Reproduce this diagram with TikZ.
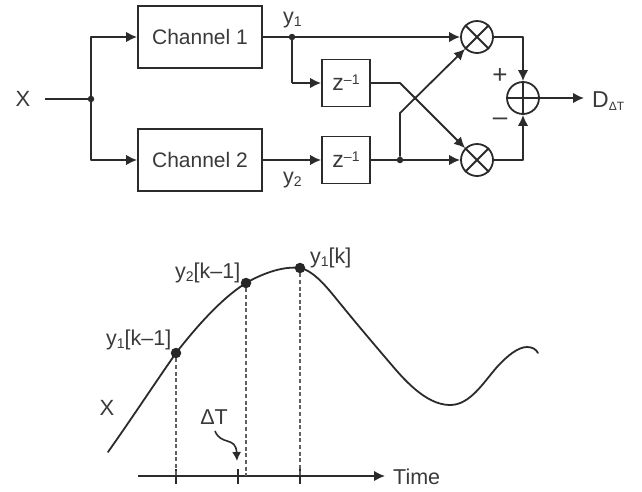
\documentclass[tikz,border=0pt]{standalone}
\usepackage{fontspec}
\setmainfont{Liberation Sans}
\usetikzlibrary{arrows.meta}
\definecolor{ink}{HTML}{2B2B2B}
\definecolor{txt}{HTML}{3A3A3A}
\tikzset{
  wire/.style={draw=ink,line width=1.8pt,line join=round},
  arr/.style={wire,-{Latex[length=11pt,width=10.5pt]}},
  block/.style={draw=ink,line width=1.8pt,inner sep=0pt,fill=white,text=txt,font=\fontsize{21}{21}\selectfont},
  chan/.style={block,minimum width=124pt,minimum height=62pt},
  delay/.style={block,minimum width=48pt,minimum height=47pt},
  op/.style={circle,draw=ink,line width=1.8pt,minimum size=32pt,inner sep=0pt},
  jdot/.style={circle,fill=ink,inner sep=0pt,minimum size=6.5pt},
  pdot/.style={circle,fill=black!85,inner sep=0pt,minimum size=10.5pt},
  lab/.style={inner sep=0pt,text=txt,font=\fontsize{21.5}{21.5}\selectfont},
  guide/.style={draw=ink!75,line width=1.2pt,dash pattern=on 4pt off 2.6pt},
}
\newcommand{\ysub}[2]{y\raisebox{-3.5pt}{\fontsize{14}{14}\selectfont #1}#2}
\newcommand{\zinv}{\fontsize{23}{23}\selectfont z\raisebox{6pt}{\fontsize{14}{14}\selectfont –1}}
\begin{document}
\begin{tikzpicture}[x=1pt,y=-1pt]
\useasboundingbox (0,0) rectangle (642,491);
\fill[white] (0,0) rectangle (642,491);
% upper block diagram
\node[lab,anchor=center] (X) at (23,99) {\fontsize{22}{22}\selectfont X};
\coordinate (in) at (45,99);
\node[jdot] (j0) at (91,99) {};
\node[chan] (c1) at (200,37) {Channel 1};
\node[chan] (c2) at (200,160) {Channel 2};
\node[jdot] (j1) at (292,37) {};
\node[delay] (z1) at (346,83) {\zinv};
\node[delay] (z2) at (346,160) {\zinv};
\node[jdot] (j2) at (400,160) {};
\node[op] (m1) at (477,37) {};
\node[op] (m2) at (477,160) {};
\node[op] (s) at (523,98) {};
\coordinate (out) at (584,98);
\coordinate (b1) at (292,83);
\coordinate (k1) at (400,83);
\coordinate (k2) at (400,113);
\coordinate (t1) at (523,37);
\coordinate (t2) at (523,160);
\draw[wire] (in) -- (j0);
\draw[arr] (j0) |- (c1.west);
\draw[arr] (j0) |- (c2.west);
\draw[wire] (c1.east) -- (j1);
\draw[arr] (j1) -- (m1.west);
\draw[wire] (j1) -- (b1);
\draw[arr] (b1) -- (z1.west);
\draw[arr] (c2.east) -- (z2.west);
\draw[wire] (z2.east) -- (j2);
\draw[arr] (j2) -- (m2.west);
\draw[arr] (z1.east) -- (k1) -- (m2.135);
\draw[arr] (j2) -- (k2) -- (m1.225);
\draw[arr] (m1.east) -- (t1) -- (s.north);
\draw[arr] (m2.east) -- (t2) -- (s.south);
\draw[arr] (s.east) -- (out);
\draw[wire] (m1.45) -- (m1.225) (m1.135) -- (m1.315);
\draw[wire] (m2.45) -- (m2.225) (m2.135) -- (m2.315);
\draw[wire] (s.north) -- (s.south) (s.west) -- (s.east);
\node[lab,anchor=base west] (ly1) at (283,23) {\ysub{1}{}};
\node[lab,anchor=base west] (ly2) at (283,183) {\ysub{2}{}};
\node[lab,anchor=center] (plus) at (500,76) {\fontsize{26}{26}\selectfont +};
\node[lab,anchor=center] (minus) at (500,122) {\fontsize{26}{26}\selectfont –};
\node[lab,anchor=base west] (D) at (592,107) {\fontsize{23}{23}\selectfont D\raisebox{-3pt}{\fontsize{12}{12}\selectfont ΔT}};
% lower waveform
\draw[wire,line cap=round] (108,452) .. controls (130,421) and (155,383) .. (176,353)
  .. controls (197,326) and (222,298) .. (246,283)
  .. controls (265,272) and (285,266) .. (300,268)
  .. controls (316,271) and (332,294) .. (343,307)
  .. controls (356,323) and (378,349) .. (390,363)
  .. controls (402,377) and (425,405) .. (450,405)
  .. controls (470,405) and (483,383) .. (497,367)
  .. controls (507,356) and (518,347) .. (527,347)
  .. controls (532,347) and (536,349) .. (538,353);
\node[pdot] (p1) at (176,353) {};
\node[pdot] (p2) at (246,283) {};
\node[pdot] (p3) at (300,268) {};
\coordinate (a0) at (138,476);
\node[lab,anchor=west] (time) at (393,477) {Time};
\coordinate (a1) at (385,476);
\draw[arr] (a0) -- (a1);
\coordinate (q1) at (176,476);
\coordinate (q2) at (246,476);
\coordinate (q3) at (300,476);
\draw[wire] (176,469) -- (176,484) (238,469) -- (238,484) (300,469) -- (300,484);
\draw[guide] (p1) -- (q1);
\draw[guide] (p2) -- (q2);
\draw[guide] (p3) -- (q3);
\node[lab,anchor=base west] (l1) at (106,345) {\ysub{1}{[k–1]}};
\node[lab,anchor=base west] (l2) at (175,278) {\ysub{2}{[k–1]}};
\node[lab,anchor=base west] (l3) at (310,263) {\ysub{1}{[k]}};
\node[lab,anchor=center] (XX) at (107,408) {\fontsize{22}{22}\selectfont X};
\node[lab,anchor=center] (dT) at (214,417) {ΔT};
\coordinate (c0) at (215,431);
\coordinate (c9) at (237,461);
\draw[wire,line width=1.6pt,-{Latex[length=9pt,width=9pt]}] (c0) .. controls (221,446) and (236,436) .. (c9);
\end{tikzpicture}
\end{document}
